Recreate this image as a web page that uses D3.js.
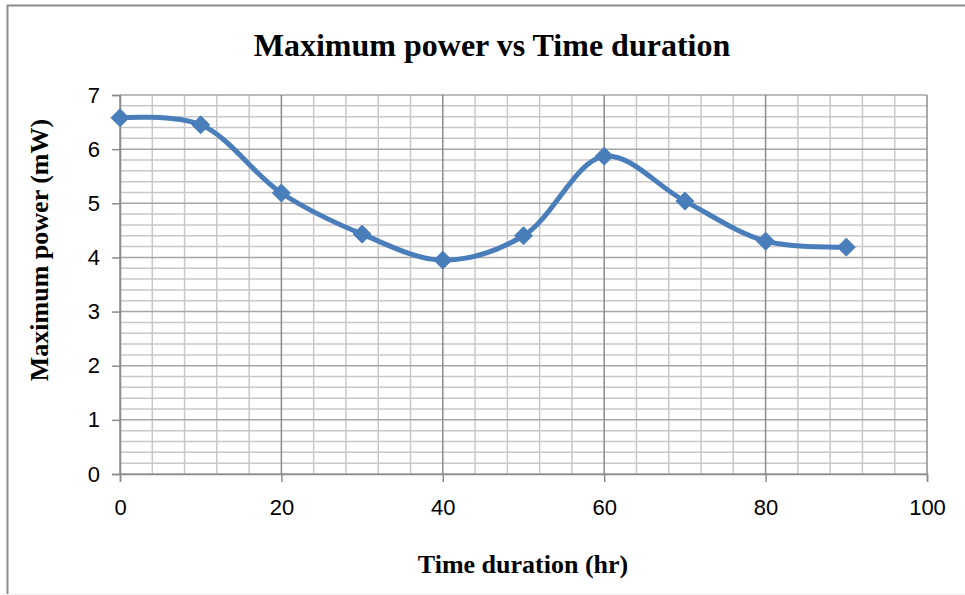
<!DOCTYPE html>
<html>
<head>
<meta charset="utf-8">
<script src="https://cdn.jsdelivr.net/npm/d3@7"></script>
<style>
  body { margin: 0; background: #fff; }
  svg { display: block; }
</style>
</head>
<body>
<svg id="chart" width="965" height="595"></svg>
<script>
// Data
const hours = [0, 10, 20, 30, 40, 50, 60, 70, 80, 90];
const powerMw = [6.58, 6.45, 5.19, 4.43, 3.95, 4.40, 5.87, 5.04, 4.30, 4.19];
const xTicks = [0, 20, 40, 60, 80, 100];
const yTicks = [0, 1, 2, 3, 4, 5, 6, 7];

const svg = d3.select('#chart');
const margin = { top: 95, right: 38, bottom: 121, left: 120 };
const width = 965, height = 595;
const innerWidth = width - margin.left - margin.right;
const innerHeight = height - margin.top - margin.bottom;

// chart frame: top and left edges show, bottom is faint
svg.append('path')
    .attr('d', 'M965,5.5H7.5V594')
    .attr('fill', 'none')
    .attr('stroke', '#8c8c8c')
    .attr('stroke-width', 2);
svg.append('line')
    .attr('x1', 9).attr('x2', 965).attr('y1', 594).attr('y2', 594)
    .attr('stroke', '#eeeeee').attr('stroke-width', 1);

const xScale = d3.scaleLinear().domain([0, 100]).range([0, innerWidth]);
const yScale = d3.scaleLinear().domain([0, 7]).range([innerHeight, 0]);

const g = svg.append('g')
    .attr('transform', `translate(${margin.left},${margin.top})`);

// minor grid
g.append('g')
    .selectAll('line')
    .data(d3.range(0, 7.001, 0.2).filter(v => Math.abs(v - Math.round(v)) > 0.01))
    .join('line')
    .attr('x1', 0).attr('x2', innerWidth)
    .attr('y1', d => yScale(d)).attr('y2', d => yScale(d))
    .attr('stroke', '#c8c8c8').attr('stroke-width', 1.5);

g.append('g')
    .selectAll('line')
    .data(d3.range(0, 100.001, 4).filter(v => v % 20 !== 0))
    .join('line')
    .attr('y1', 0).attr('y2', innerHeight)
    .attr('x1', d => xScale(d)).attr('x2', d => xScale(d))
    .attr('stroke', '#c8c8c8').attr('stroke-width', 1.5);

// major grid
g.append('g')
    .selectAll('line')
    .data(yTicks)
    .join('line')
    .attr('x1', 0).attr('x2', innerWidth)
    .attr('y1', d => yScale(d)).attr('y2', d => yScale(d))
    .attr('stroke', '#a6a6a6').attr('stroke-width', 1.5);

g.append('g')
    .selectAll('line')
    .data(xTicks)
    .join('line')
    .attr('y1', 0).attr('y2', innerHeight)
    .attr('x1', d => xScale(d)).attr('x2', d => xScale(d))
    .attr('stroke', '#8c8c8c').attr('stroke-width', 1.5);

// axes
const xAxis = g.append('g')
    .attr('transform', `translate(0,${innerHeight})`)
    .call(d3.axisBottom(xScale).tickValues(xTicks).tickFormat(d3.format('d')).tickSize(8).tickPadding(17));
const yAxis = g.append('g')
    .call(d3.axisLeft(yScale).tickValues(yTicks).tickFormat(d3.format('d')).tickSize(8).tickPadding(12));

[xAxis, yAxis].forEach(a => {
    a.attr('font-family', '"Liberation Sans", Arial, sans-serif').attr('font-size', 22);
    a.select('.domain').attr('stroke', '#8c8c8c').attr('stroke-width', 1.5);
    a.selectAll('.tick line').attr('stroke', '#8c8c8c').attr('stroke-width', 1.5);
    a.selectAll('.tick text').attr('fill', '#000');
});

// line
const points = hours.map((h, i) => ({ x: h, y: powerMw[i] }));
const line = d3.line()
    .x(d => xScale(d.x))
    .y(d => yScale(d.y))
    .curve(d3.curveCatmullRom.alpha(0.5));

g.append('path')
    .datum(points)
    .attr('fill', 'none')
    .attr('stroke', '#4a7ebb')
    .attr('stroke-width', 5)
    .attr('d', line);

g.append('g')
    .selectAll('path')
    .data(points)
    .join('path')
    .attr('transform', d => `translate(${xScale(d.x)},${yScale(d.y)})`)
    .attr('d', 'M0,-9L9,0L0,9L-9,0Z')
    .attr('fill', '#4a7ebb')
    .attr('stroke', '#4a7ebb')
    .attr('stroke-width', 1);

// titles
svg.append('text')
    .attr('x', 492).attr('y', 56)
    .attr('text-anchor', 'middle')
    .style('font-family', '"Liberation Serif", "Times New Roman", serif')
    .style('font-weight', 'bold')
    .style('font-size', '32px')
    .text('Maximum power vs Time duration');

svg.append('text')
    .attr('x', 523).attr('y', 573)
    .attr('text-anchor', 'middle')
    .style('font-family', '"Liberation Serif", "Times New Roman", serif')
    .style('font-weight', 'bold')
    .style('font-size', '26px')
    .text('Time duration (hr)');

svg.append('text')
    .attr('transform', 'translate(48,250) rotate(-90)')
    .attr('text-anchor', 'middle')
    .style('font-family', '"Liberation Serif", "Times New Roman", serif')
    .style('font-weight', 'bold')
    .style('font-size', '26px')
    .text('Maximum power (mW)');
</script>
</body>
</html>
